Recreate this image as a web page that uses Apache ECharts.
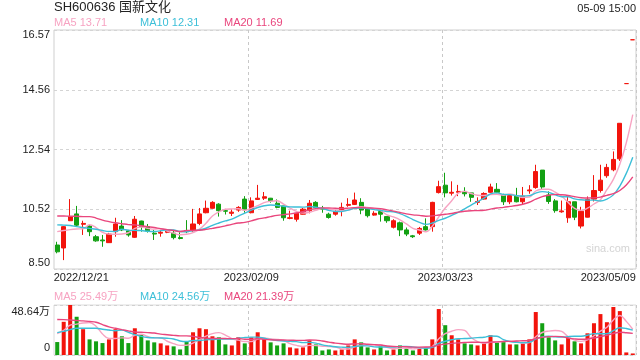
<!DOCTYPE html>
<html><head><meta charset="utf-8">
<script src="https://cdn.jsdelivr.net/npm/echarts@6/dist/echarts.min.js"></script>
<style>html,body{margin:0;padding:0;background:#fff}#c{width:640px;height:360px}</style>
</head><body><div id="c"></div>
<script>
const dates = [
'2022/12/21','2022/12/22','2022/12/23','2022/12/26','2022/12/27','2022/12/28','2022/12/29','2022/12/30',
'2023/01/03','2023/01/04','2023/01/05','2023/01/06','2023/01/09','2023/01/10','2023/01/11','2023/01/12','2023/01/13',
'2023/01/16','2023/01/17','2023/01/18','2023/01/19','2023/01/20','2023/01/30','2023/01/31',
'2023/02/01','2023/02/02','2023/02/03','2023/02/06','2023/02/07','2023/02/08','2023/02/09','2023/02/10',
'2023/02/13','2023/02/14','2023/02/15','2023/02/16','2023/02/17','2023/02/20','2023/02/21','2023/02/22','2023/02/23','2023/02/24',
'2023/02/27','2023/02/28',
'2023/03/01','2023/03/02','2023/03/03','2023/03/06','2023/03/07','2023/03/08','2023/03/09','2023/03/10',
'2023/03/13','2023/03/14','2023/03/15','2023/03/16','2023/03/17','2023/03/20','2023/03/21','2023/03/22','2023/03/23','2023/03/24',
'2023/03/27','2023/03/28','2023/03/29','2023/03/30','2023/03/31',
'2023/04/03','2023/04/04','2023/04/06','2023/04/07','2023/04/10','2023/04/11','2023/04/12','2023/04/13','2023/04/14',
'2023/04/17','2023/04/18','2023/04/19','2023/04/20','2023/04/21','2023/04/24','2023/04/25','2023/04/26','2023/04/27','2023/04/28',
'2023/05/04','2023/05/05','2023/05/08','2023/05/09'];

const openP = [9.31,9.21,10.13,10.36,10.01,9.95,9.59,9.48,9.39,9.76,
9.95,9.79,9.57,10.12,9.93,9.71,9.71,9.74,9.71,9.56,
9.80,9.79,10.04,10.40,10.55,10.69,10.47,10.38,10.49,10.86,
10.40,10.85,10.89,10.89,10.72,10.63,10.21,10.18,10.35,10.47,
10.75,10.55,10.35,10.35,10.47,10.65,10.68,10.75,10.53,10.32,
10.44,10.27,9.91,10.06,9.82,9.62,9.71,9.93,9.93,11.08,
11.33,11.06,11.09,11.12,11.07,10.75,10.86,11.09,11.19,11.00,
10.77,10.96,10.77,11.14,11.25,11.84,11.00,10.80,10.43,10.23,
10.77,9.95,10.25,10.86,11.15,11.65,11.85,12.22,14.76,16.24];
const closeP = [9.08,9.93,10.27,9.98,10.04,9.76,9.45,9.45,9.68,10.02,
9.82,9.65,10.18,9.93,9.79,9.68,9.74,9.78,9.56,9.53,
9.76,10.02,10.36,10.55,10.75,10.47,10.45,10.42,10.58,10.50,
10.80,10.89,10.94,10.81,10.58,10.23,10.23,10.38,10.52,10.72,
10.57,10.52,10.24,10.44,10.58,10.68,10.83,10.49,10.30,10.38,
10.35,10.13,10.13,9.82,9.68,9.59,9.87,9.82,10.75,11.28,
11.07,11.09,11.12,11.04,10.92,10.78,11.05,11.27,11.09,10.77,
10.98,10.77,10.96,11.17,11.79,11.27,10.78,10.47,10.46,10.77,
10.25,10.45,10.85,11.15,11.50,11.93,12.20,13.42,14.76,16.24];
const lowP = [9.03,8.80,10.12,9.93,9.65,9.61,9.42,9.25,9.38,9.59,
9.78,9.59,9.55,9.76,9.73,9.48,9.59,9.71,9.50,9.50,
9.71,9.76,9.98,10.38,10.54,10.27,10.34,10.29,10.43,10.40,
10.38,10.83,10.83,10.74,10.55,10.13,10.18,10.10,10.34,10.38,
10.52,10.40,10.20,10.30,10.28,10.60,10.66,10.35,10.24,10.30,
10.10,10.06,9.87,9.61,9.61,9.55,9.65,9.80,9.76,11.05,
10.92,10.98,10.96,10.95,10.77,10.66,10.84,11.07,11.06,10.66,
10.69,10.75,10.69,11.04,11.21,11.17,10.70,10.40,10.40,10.06,
10.15,9.87,10.24,10.78,11.08,11.58,11.80,12.15,14.76,16.24];
const highP = [9.42,9.95,10.86,10.63,10.13,9.98,9.65,9.65,9.72,10.23,
10.15,9.82,10.29,10.13,10.02,9.82,9.82,9.84,9.82,9.74,
10.15,10.53,10.56,10.81,10.79,10.72,10.53,10.52,10.62,10.96,
10.92,11.34,11.10,10.90,10.85,10.63,10.47,10.40,10.56,10.83,
10.79,10.63,10.40,10.50,10.74,10.89,11.08,10.89,10.57,10.45,
10.44,10.27,10.18,10.10,9.90,9.65,9.92,10.21,10.77,11.48,
11.75,11.46,11.34,11.26,11.07,10.92,11.09,11.38,11.40,11.04,
11.02,11.24,11.27,11.33,12.02,11.84,11.12,10.86,10.81,10.98,
10.77,10.60,10.95,11.67,12.02,12.05,12.47,13.42,14.76,16.24];
// volume in 万 (10k shares)
const volume = [12.6,32.3,48.64,37.2,25.1,15.2,13.3,11.6,15.2,25.1,
18.2,11.6,26.0,19.8,14.2,12.3,11.3,9.3,8.4,5.4,
12.9,22.1,26.0,25.1,18.2,17.2,10.3,9.3,17.2,11.3,
17.2,22.1,15.2,12.3,9.3,11.3,7.4,6.4,7.4,14.2,
10.3,4.4,5.4,4.4,5.4,9.3,15.2,12.3,7.4,5.4,
8.4,4.4,5.4,9.3,6.4,4.4,7.4,7.4,15.2,44.7,
29.0,19.2,15.2,11.3,10.3,9.3,11.3,19.2,12.3,13.3,
10.3,10.3,11.3,15.2,41.8,30.9,17.2,14.2,10.3,17.2,
13.3,11.3,21.1,30.9,39.8,31.9,46.7,42.7,2.5,1.5];

// moving-average values before a full window is available
const ma5Head = [9.76,9.80,9.83,9.85];
const ma10Head = [9.99,9.98,9.97,9.93,9.90,9.87,9.84,9.80,9.77];
const ma20Head = [10.29,10.29,10.28,10.28,10.27,10.27,10.22,10.15,10.10,10.06,10.03,10.00,9.99,9.96,9.93,9.90,9.86,9.83,9.80];
const vma5Head = [20.8,24.1,29.0,30.0];
const vma10Head = [21.8,23.0,24.7,26.0,26.0,26.0,26.0,25.0,24.3];
const vma20Head = [34.6,34.4,34.0,33.6,33.2,32.6,31.9,29.6,27.3,26.0,24.7,23.5,22.4,22.1,21.8,21.4,20.3,19.7,19.1];

const priceTicks = ['8.50','10.52','12.54','14.56','16.57'];
const volTicks = ['0','48.64万'];
const xTickLabels = ['2022/12/21','2023/02/09','2023/03/23','2023/05/09'];
const titleText = 'SH600636 国新文化';
const timeText = '05-09 15:00';
const priceLegend = ['MA5 13.71','MA10 12.31','MA20 11.69'];
const volLegend = ['MA5 25.49万','MA10 24.56万','MA20 21.39万'];

const UP = '#f2140c', DOWN = '#13a013';
const C5 = '#f7a3c2', C10 = '#3cbfd8', C20 = '#e9467d';
const FONT = '"Liberation Sans", Arial, "Noto Sans CJK SC", sans-serif';

function movingAvg(src, n, head) {
  return src.map((v, i) => {
    if (i < n - 1) return head[i];
    let s = 0; for (let k = i - n + 1; k <= i; k++) s += src[k];
    return +(s / n).toFixed(3);
  });
}

const candleData = dates.map((d, i) => [openP[i], closeP[i], lowP[i], highP[i]]);
const volData = volume.map((v, i) => ({ value: v, itemStyle: { color: closeP[i] >= openP[i] ? UP : DOWN } }));
const labelIdx = xTickLabels.map(l => dates.indexOf(l));
const gridIdx = labelIdx.slice(1, -1);

const pMin = parseFloat(priceTicks[0]), pMax = parseFloat(priceTicks[priceTicks.length - 1]);
const pStep = (pMax - pMin) / (priceTicks.length - 1);
const vMax = parseFloat(volTicks[1]);

const chart = echarts.init(document.getElementById('c'));
const lineBase = { type: 'line', showSymbol: false, symbol: 'none', smooth: 0.4, silent: true };
const mk = (text, left, top, color, size) => ({
  text, left, top, padding: 0,
  textStyle: { fontSize: size || 11, color, fontWeight: 'normal', fontFamily: FONT }
});

chart.setOption({
  animation: false,
  backgroundColor: '#fff',
  title: [
    mk(titleText, 54, 1, '#222', 13),
    { ...mk(timeText, 0, 3, '#222', 11), left: undefined, right: 4 },
    mk(priceLegend[0], 54, 17, C5), mk(priceLegend[1], 140, 17, C10), mk(priceLegend[2], 224, 17, C20),
    mk(volLegend[0], 54, 291, C5), mk(volLegend[1], 140, 291, C10), mk(volLegend[2], 224, 291, C20),
    mk('sina.com', 586, 243, '#d4d4d4', 11)
  ],
  grid: [
    { left: 54, right: 4, top: 30, height: 239, show: true, borderColor: '#cfcfcf', borderWidth: 1 },
    { left: 54, right: 4, top: 305, height: 50, show: true, borderColor: '#dcdcdc', borderWidth: 1 }
  ],
  xAxis: [
    { type: 'category', data: dates, gridIndex: 0, boundaryGap: true,
      axisLine: { show: false }, axisTick: { show: false },
      axisLabel: { margin: 3, fontSize: 11, color: '#222', fontFamily: FONT,
        interval: (i) => labelIdx.includes(i),
        formatter: (v, i) => i === labelIdx[0] ? '{l|' + v + '}' : (i === labelIdx[labelIdx.length - 1] ? '{r|' + v + '}' : v),
        rich: { l: { padding: [0, 0, 0, 48], fontSize: 11, color: '#222', fontFamily: FONT },
                r: { padding: [0, 49, 0, 0], fontSize: 11, color: '#222', fontFamily: FONT } } },
      splitLine: { show: true, interval: (i) => gridIdx.includes(i), lineStyle: { color: '#c8c8c8', type: [3, 3] } } },
    { type: 'category', data: dates, gridIndex: 1, boundaryGap: true,
      axisLine: { show: false }, axisTick: { show: false }, axisLabel: { show: false },
      splitLine: { show: true, interval: (i) => gridIdx.includes(i), lineStyle: { color: '#c8c8c8', type: [3, 3] } } }
  ],
  yAxis: [
    { type: 'value', gridIndex: 0, min: pMin, max: pMax, interval: pStep, scale: true,
      axisLine: { show: false }, axisTick: { show: false },
      axisLabel: { margin: 4, fontSize: 11, color: '#222', fontFamily: FONT,
        formatter: (v) => {
          const k = Math.round((v - pMin) / pStep); const t = priceTicks[k];
          if (k === priceTicks.length - 1) return '{t|' + t + '}';
          if (k === 0) return '{b|' + t + '}';
          return t;
        },
        rich: { t: { padding: [10, 0, 0, 0], fontSize: 11, color: '#222', fontFamily: FONT },
                b: { padding: [0, 0, 12, 0], fontSize: 11, color: '#222', fontFamily: FONT } } },
      splitLine: { show: true, lineStyle: { color: '#d4d4d4', type: [3, 3] } } },
    { type: 'value', gridIndex: 1, min: 0, max: vMax, interval: vMax,
      axisLine: { show: false }, axisTick: { show: false },
      axisLabel: { margin: 4, fontSize: 11, color: '#222', fontFamily: FONT,
        formatter: (v) => v === 0 ? '{b|' + volTicks[0] + '}' : '{t|' + volTicks[1] + '}',
        rich: { t: { padding: [14, 0, 0, 0], fontSize: 11, color: '#222', fontFamily: FONT },
                b: { padding: [0, 0, 14, 0], fontSize: 11, color: '#222', fontFamily: FONT } } },
      splitLine: { show: true, lineStyle: { color: '#d0d0d0', type: [3, 3] } } }
  ],
  series: [
    { type: 'candlestick', xAxisIndex: 0, yAxisIndex: 0, data: candleData, barWidth: '72%',
      itemStyle: { color: UP, color0: DOWN, borderColor: UP, borderColor0: DOWN, borderWidth: 1 } },
    { ...lineBase, name: 'MA5', xAxisIndex: 0, yAxisIndex: 0, data: movingAvg(closeP, 5, ma5Head), lineStyle: { color: C5, width: 1.4 } },
    { ...lineBase, name: 'MA10', xAxisIndex: 0, yAxisIndex: 0, data: movingAvg(closeP, 10, ma10Head), lineStyle: { color: C10, width: 1.4 } },
    { ...lineBase, name: 'MA20', xAxisIndex: 0, yAxisIndex: 0, data: movingAvg(closeP, 20, ma20Head), lineStyle: { color: C20, width: 1.4 } },
    { type: 'bar', xAxisIndex: 1, yAxisIndex: 1, data: volData, barWidth: '62%' },
    { ...lineBase, name: 'VMA5', xAxisIndex: 1, yAxisIndex: 1, data: movingAvg(volume, 5, vma5Head), lineStyle: { color: C5, width: 1.4 } },
    { ...lineBase, name: 'VMA10', xAxisIndex: 1, yAxisIndex: 1, data: movingAvg(volume, 10, vma10Head), lineStyle: { color: C10, width: 1.4 } },
    { ...lineBase, name: 'VMA20', xAxisIndex: 1, yAxisIndex: 1, data: movingAvg(volume, 20, vma20Head), lineStyle: { color: C20, width: 1.4 } }
  ]
});
</script>
</body></html>
